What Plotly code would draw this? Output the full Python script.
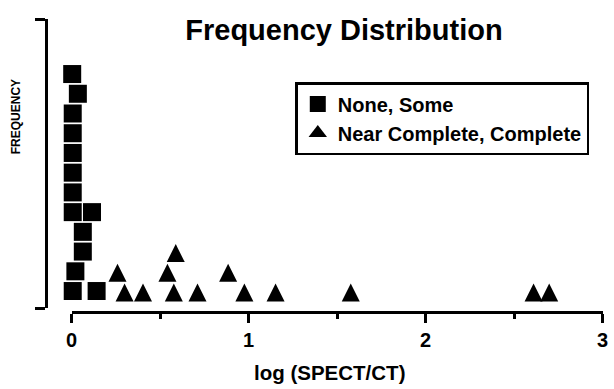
import plotly.graph_objects as go

# ---- data ----
none_some_x = [0.003, 0.035, 0.006, 0.006, 0.006, 0.006, 0.006, 0.006, 0.115, 0.063, 0.063, 0.021, 0.006, 0.141]
none_some_y = [12, 11, 10, 9, 8, 7, 6, 5, 5, 4, 3, 2, 1, 1]

complete_x = [0.259, 0.299, 0.403, 0.588, 0.541, 0.577, 0.711, 0.884, 0.976, 1.152, 1.577, 2.61, 2.698]
complete_y = [2, 1, 1, 3, 2, 1, 1, 2, 1, 1, 1, 1, 1]

series_names = ["None, Some", "Near Complete, Complete"]
x_tick_vals = [0, 1, 2, 3]
x_tick_text = ["0", "1", "2", "3"]

FONT = "Liberation Sans, Arial, Helvetica, sans-serif"

TRI_SIZE = 18

fig = go.Figure()
fig.add_trace(go.Scatter(
    x=none_some_x, y=none_some_y, mode="markers", name=series_names[0],
    marker=dict(symbol="square", size=18, color="black", line=dict(width=0)),
    cliponaxis=False,
))
# an upward triangle of equal width and height, centred on its point
fig.add_trace(go.Scatter(
    x=complete_x, y=complete_y, mode="markers", name=series_names[1],
    marker=dict(symbol="arrow-down", angle=180, size=TRI_SIZE, color="black",
                line=dict(width=0), standoff=TRI_SIZE / 2 - 1.5),
    cliponaxis=False, showlegend=False, legendgroup="complete",
))
# legend entry for the triangles (no data of its own)
fig.add_trace(go.Scatter(
    x=[None], y=[None], mode="markers", name=series_names[1],
    marker=dict(symbol="triangle-up", size=16, color="black", line=dict(width=0)),
    legendgroup="complete", hoverinfo="skip",
))

W, H = 614, 389
ml, mr, mt, mb = 40, 4, 15, 74
pw, ph = W - ml - mr, H - mt - mb

def px_x(p):
    return (p - ml) / pw

def px_y(p):
    return (H - mb - p) / ph

ymin, ymax = 0.14, 14.79

fig.update_layout(
    width=W, height=H,
    margin=dict(l=ml, r=mr, t=mt, b=mb),
    plot_bgcolor="white", paper_bgcolor="white",
    font=dict(family=FONT, color="black"),
    title=dict(text="Frequency Distribution", x=344 / W, xref="container", xanchor="center",
               y=1 - 30 / H, yref="container", yanchor="middle",
               font=dict(size=29, weight="bold", family=FONT, color="black")),
    xaxis=dict(
        range=[0, 3], domain=[px_x(72), px_x(608.6)],
        anchor="free", position=px_y(312),
        showline=True, linecolor="black", linewidth=2.5,
        showgrid=False, zeroline=False,
        tickmode="array", tickvals=x_tick_vals, ticktext=x_tick_text,
        ticks="outside", ticklen=9, tickwidth=2.5, tickcolor="black",
        ticklabeloverflow="allow",
        tickfont=dict(size=20, weight="bold", family=FONT, color="black"),
        minor=dict(dtick=0.5, ticks="outside", ticklen=5, tickwidth=2.5, tickcolor="black", showgrid=False),
    ),
    yaxis=dict(
        range=[ymin, ymax], domain=[px_y(308), px_y(19)],
        anchor="free", position=px_x(46),
        showline=True, linecolor="black", linewidth=2.5,
        showgrid=False, zeroline=False,
        tickmode="array", tickvals=[ymin, ymax], showticklabels=False,
        ticks="outside", ticklen=10, tickwidth=2.5, tickcolor="black",
    ),
    legend=dict(
        x=px_x(298), y=px_y(82), xanchor="left", yanchor="top",
        bordercolor="black", borderwidth=2.5, bgcolor="white",
        font=dict(size=20, weight="bold", family=FONT, color="black"),
        tracegroupgap=0,
    ),
    showlegend=True,
    annotations=[
        dict(text="FREQUENCY", textangle=-90, x=px_x(16), y=px_y(117), xref="paper", yref="paper",
             showarrow=False, xanchor="center", yanchor="middle",
             font=dict(size=12, weight="bold", family=FONT, color="black")),
        dict(text="log (SPECT/CT)", x=px_x(333), y=px_y(372), xref="paper", yref="paper",
             showarrow=False, xanchor="center", yanchor="middle",
             font=dict(size=20.5, weight="bold", family=FONT, color="black")),
    ],
)

fig.write_html("out.html", config={"displayModeBar": False},
               post_script="document.body.style.margin='0';document.body.style.padding='0';")
